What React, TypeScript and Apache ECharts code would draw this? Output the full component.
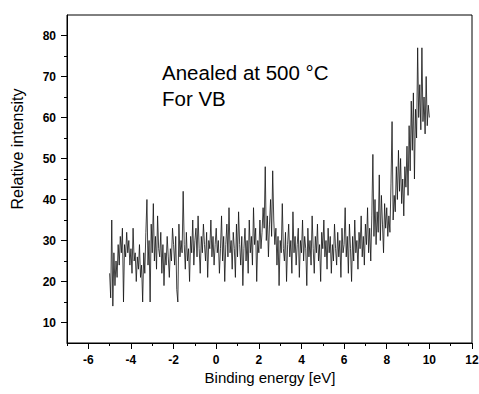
import React, { useEffect, useRef } from "react";
import * as echarts from "echarts";

// Binding energy grid of the measured spectrum (eV)
const energyStart = -5;
const energyStep = 0.05;

// Relative intensity, one value per 0.05 eV from -5 to 10 eV
const intensity: number[] = [
  // -5.00 .. -4.05
  22, 16, 35, 14, 27, 19, 25, 21, 29, 24, 31, 27, 33, 15, 29, 26, 32, 27, 30, 24,
  // -4.00 .. -3.05
  28, 22, 33, 25, 27, 20, 26, 23, 29, 21, 24, 15, 27, 22, 32, 40, 24, 30, 15, 34,
  // -3.00 .. -2.05
  27, 39, 25, 31, 23, 36, 28, 26, 32, 22, 29, 19, 27, 24, 31, 26, 21, 28, 25, 33,
  // -2.00 .. -1.05
  29, 24, 31, 18, 15, 34, 26, 30, 27, 42, 29, 23, 32, 25, 28, 20, 31, 27, 35, 24,
  // -1.00 .. -0.05
  30, 33, 26, 36, 28, 22, 31, 27, 34, 29, 25, 32, 21, 30, 28, 35, 26, 31, 24, 29,
  // 0.00 .. 0.95
  33, 27, 30, 22, 28, 36, 25, 31, 20, 29, 34, 26, 38, 27, 30, 23, 32, 28, 21, 34,
  // 1.00 .. 1.95
  26, 37, 29, 24, 31, 19, 28, 33, 25, 30, 22, 35, 27, 31, 24, 38, 29, 33, 20, 30,
  // 2.00 .. 2.95
  27, 35, 28, 32, 38, 33, 48, 30, 36, 26, 34, 40, 31, 47, 35, 29, 33, 24, 31, 19,
  // 3.00 .. 3.95
  30, 27, 39, 28, 25, 32, 20, 29, 34, 26, 30, 22, 37, 27, 31, 24, 29, 33, 21, 30,
  // 4.00 .. 4.95
  27, 35, 25, 31, 28, 19, 33, 26, 30, 24, 36, 28, 22, 31, 27, 34, 25, 29, 20, 32,
  // 5.00 .. 5.95
  28, 35, 26, 30, 23, 33, 27, 31, 22, 29, 25, 34, 28, 24, 32, 26, 30, 21, 33, 27,
  // 6.00 .. 6.95
  29, 38, 26, 31, 22, 34, 28, 20, 31, 25, 35, 27, 30, 23, 32, 28, 36, 26, 31, 24,
  // 7.00 .. 7.95
  34, 29, 38, 27, 33, 25, 36, 51, 31, 40, 29, 37, 32, 46, 30, 41, 34, 27, 39, 33,
  // 8.00 .. 8.95
  38, 31, 36, 32, 44, 59, 35, 41, 37, 48, 40, 52, 42, 50, 39, 45, 36, 48, 43, 53,
  // 9.00 .. 9.95
  41, 58, 47, 64, 52, 66, 45, 62, 55, 77, 60, 68, 57, 77, 59, 65, 56, 70, 58, 63,
  // 10.00
  60,
];

const xMajorTicks = [-6, -4, -2, 0, 2, 4, 6, 8, 10, 12];
const xMinorTicks = [-7, -5, -3, -1, 1, 3, 5, 7, 9, 11];
const yMajorTicks = [10, 20, 30, 40, 50, 60, 70, 80];
const yMinorTicks = [15, 25, 35, 45, 55, 65, 75];

const xTitle = "Binding energy [eV]";
const yTitle = "Relative intensity";
const noteLine1 = "Anealed at 500 °C";
const noteLine2 = "For VB";

const FONT = "Liberation Sans";
const W = 479;
const H = 394;
const GRID = { left: 67, right: 7, top: 15, bottom: 51 };

export default function App() {
  const ref = useRef<HTMLDivElement>(null);

  useEffect(() => {
    if (!ref.current) return;
    const chart = echarts.init(ref.current, undefined, { renderer: "svg" });
    const data = intensity.map((v, i) => [
      Math.round((energyStart + i * energyStep) * 100) / 100,
      v,
    ]);
    const gridW = W - GRID.left - GRID.right;
    const gridH = H - GRID.top - GRID.bottom;

    const labelStyle = {
      color: "#000",
      fontFamily: FONT,
      fontWeight: 700,
      fontSize: 12,
    };

    chart.setOption({
      animation: false,
      backgroundColor: "#fff",
      grid: {
        ...GRID,
        containLabel: false,
        outerBoundsMode: "none",
        show: true,
        borderColor: "#000",
        borderWidth: 1,
        backgroundColor: "transparent",
      },
      xAxis: [
        {
          type: "value",
          min: -7,
          max: 12,
          position: "bottom",
          axisLine: { show: true, onZero: false, lineStyle: { color: "#000", width: 1 } },
          axisTick: {
            show: true,
            inside: false,
            length: 6,
            customValues: xMajorTicks,
            lineStyle: { color: "#000" },
          },
          axisLabel: { ...labelStyle, margin: 11, customValues: xMajorTicks },
          splitLine: { show: false },
        },
        {
          type: "value",
          min: -7,
          max: 12,
          position: "top",
          offset: -gridH,
          axisLine: { show: false, onZero: false },
          axisTick: {
            show: true,
            inside: true,
            length: 3,
            customValues: xMinorTicks,
            lineStyle: { color: "#000" },
          },
          axisLabel: { show: false },
          splitLine: { show: false },
        },
      ],
      yAxis: [
        {
          type: "value",
          min: 5,
          max: 85,
          position: "left",
          axisLine: { show: true, onZero: false, lineStyle: { color: "#000", width: 1 } },
          axisTick: {
            show: true,
            inside: false,
            length: 6,
            customValues: yMajorTicks,
            lineStyle: { color: "#000" },
          },
          axisLabel: { ...labelStyle, margin: 11, customValues: yMajorTicks },
          splitLine: { show: false },
        },
        {
          type: "value",
          min: 5,
          max: 85,
          position: "right",
          offset: -gridW,
          axisLine: { show: false, onZero: false },
          axisTick: {
            show: true,
            inside: true,
            length: 3,
            customValues: yMinorTicks,
            lineStyle: { color: "#000" },
          },
          axisLabel: { show: false },
          splitLine: { show: false },
        },
      ],
      series: [
        {
          type: "line",
          xAxisIndex: 0,
          yAxisIndex: 0,
          data,
          showSymbol: false,
          symbol: "none",
          lineStyle: { color: "#111", width: 0.8 },
          silent: true,
        },
      ],
      graphic: [
        {
          type: "text",
          x: 270,
          y: 377,
          silent: true,
          style: {
            text: xTitle,
            fontFamily: FONT,
            fontSize: 15,
            fill: "#000",
            align: "center",
            verticalAlign: "middle",
          },
        },
        {
          type: "text",
          x: 17,
          y: 149,
          rotation: Math.PI / 2,
          silent: true,
          style: {
            text: yTitle,
            fontFamily: FONT,
            fontSize: 16,
            fill: "#000",
            align: "center",
            verticalAlign: "middle",
          },
        },
        {
          type: "text",
          x: 162,
          y: 72,
          silent: true,
          style: {
            text: noteLine1,
            fontFamily: FONT,
            fontSize: 20.5,
            fill: "#000",
            align: "left",
            verticalAlign: "middle",
          },
        },
        {
          type: "text",
          x: 162,
          y: 98,
          silent: true,
          style: {
            text: noteLine2,
            fontFamily: FONT,
            fontSize: 20.5,
            fill: "#000",
            align: "left",
            verticalAlign: "middle",
          },
        },
      ],
    });

    return () => chart.dispose();
  }, []);

  return (
    <div
      ref={ref}
      style={{ position: "fixed", left: 0, top: 0, width: W, height: H, background: "#fff" }}
    />
  );
}
